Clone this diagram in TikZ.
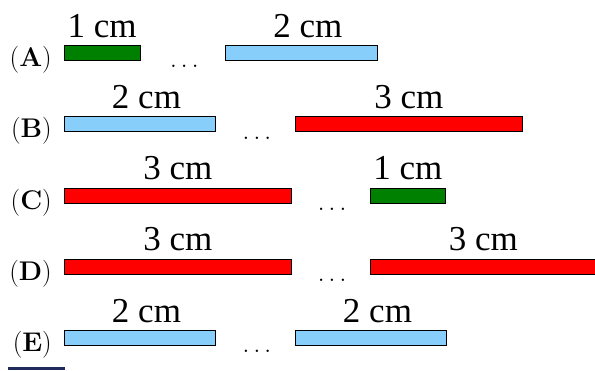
\documentclass[tikz,border=0pt]{standalone}
\usepackage{fontspec}
\newfontfamily\timesfont{Liberation Serif}
\usetikzlibrary{calc}
\definecolor{barGreen}{HTML}{008000}
\definecolor{barBlue}{HTML}{87CEFA}
\definecolor{barRed}{HTML}{FF0000}
\definecolor{edgeNavy}{HTML}{1F2A5C}

\begin{document}
\begin{tikzpicture}[x=1pt, y=-1pt,
    bar/.style={draw=black, line width=0.8pt, inner sep=0pt,
        minimum height=15pt, anchor=north west},
    lenlbl/.style={font=\timesfont\fontsize{35}{40}\selectfont,
        inner sep=0pt, anchor=base},
    rowlbl/.style={font=\fontsize{27}{30}\selectfont,
        inner sep=0pt, anchor=base east},
    gapdots/.style={font=\fontsize{26}{30}\selectfont,
        inner sep=0pt, anchor=base}]

\useasboundingbox (0,0) rectangle (595,370);
\clip (0,0) rectangle (595,370);

% --- MACRO: DRAW ONE ROW ---
% #1: node prefix
% #2: row letter
% #3: y of bar top
% #4, #5: length and colour of left bar
% #6, #7: length and colour of right bar
% #8: gap between the bars
\newcommand{\drawRow}[8]{
    % Left bar
    \node[bar, fill=#5, minimum width=#4*75.6pt] (#1L) at (64,#3) {};
    \pgfmathsetmacro{\sa}{#4==2 ? 6.5 : 0}
    \node[lenlbl] (#1Lt) at ($(#1L.north)+(\sa,-8)$) {#4 cm};

    % Right bar
    \node[bar, fill=#7, minimum width=#6*75.6pt] (#1R)
        at ($(#1L.north east)+(#8,0)$) {};
    \pgfmathsetmacro{\sb}{#6==2 ? 6.5 : 0}
    \node[lenlbl] (#1Rt) at ($(#1R.north)+(\sb,-8)$) {#6 cm};

    % Row label and dots
    \node[rowlbl] (#1n) at ($(#1L.north west)+(-12,21.5)$) {(\textbf{#2})};
    \node[gapdots] (#1d) at ($(#1L.east)!0.5!(#1R.west)+(1.5,15)$) {$\ldots$};
}

% --- ROWS ---
\drawRow{a}{A}{45}{1}{barGreen}{2}{barBlue}{85}
\drawRow{b}{B}{116.25}{2}{barBlue}{3}{barRed}{79}
\drawRow{c}{C}{187.5}{3}{barRed}{1}{barGreen}{78}
\drawRow{d}{D}{258.75}{3}{barRed}{3}{barRed}{78}
\drawRow{e}{E}{330}{2}{barBlue}{2}{barBlue}{79}

% stray edge at the bottom
\fill[edgeNavy] (8,366.5) rectangle (65,370);

\end{tikzpicture}
\end{document}
